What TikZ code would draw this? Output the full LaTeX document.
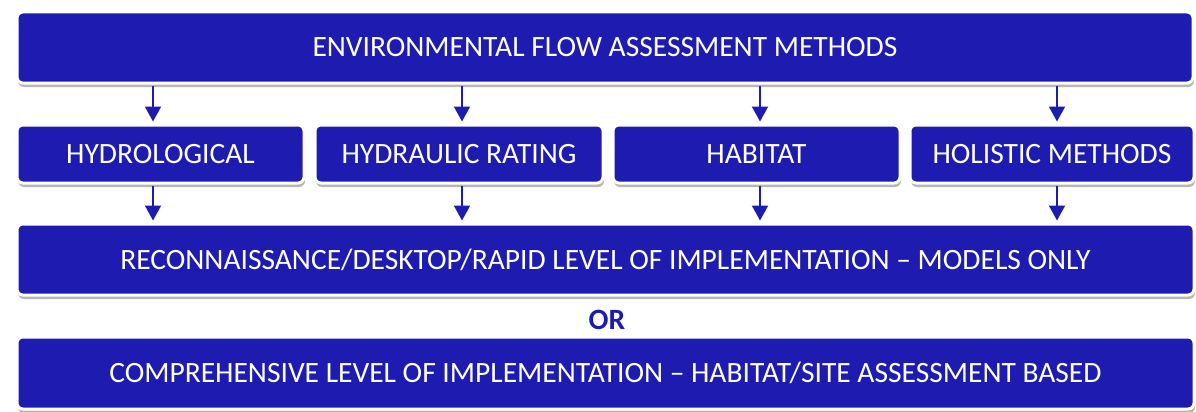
\documentclass[tikz,border=0pt]{standalone}
\usepackage{fontspec}
\setmainfont{Carlito}
\usetikzlibrary{arrows.meta,shadows}
\definecolor{efblue}{RGB}{30,28,176}
\tikzset{
  blk/.style={draw=white,line width=3pt,fill=efblue,rounded corners=6pt,text=white,
    inner sep=0pt,drop shadow={shadow xshift=1pt,shadow yshift=-4pt,opacity=0.4,fill=black!70}},
  arr/.style={-{Triangle[length=15pt,width=16pt]},efblue,line width=2pt,shorten >=2pt,shorten <=1pt}
}

\begin{document}
\begin{tikzpicture}[x=1pt,y=-1pt,font=\fontsize{29.5}{32}\selectfont]
\useasboundingbox[fill=white] (0,0) rectangle (1196,412);
% --- top: the family of methods
\node[blk,minimum width=1176pt,minimum height=71pt] (efa) at (605,47.5) {ENVIRONMENTAL FLOW ASSESSMENT METHODS};
% --- four kinds of method
\node[blk,minimum width=287pt,minimum height=58pt] (hydro) at (160.5,154) {HYDROLOGICAL};
\node[blk,minimum width=288pt,minimum height=58pt] (hydra) at (459,154) {HYDRAULIC RATING};
\node[blk,minimum width=287pt,minimum height=58pt] (habit) at (756.5,154) {HABITAT};
\node[blk,minimum width=284pt,minimum height=58pt] (holis) at (1052,154) {HOLISTIC METHODS};
% --- levels of implementation
\node[blk,minimum width=1177pt,minimum height=71pt] (recon) at (605.5,259.5) {RECONNAISSANCE/DESKTOP/RAPID LEVEL OF IMPLEMENTATION -- MODELS ONLY};
\node[efblue,font=\fontsize{29.5}{32}\selectfont\bfseries] (or) at (607,320) {OR};
\node[blk,minimum width=1177pt,minimum height=72pt] (compr) at (605.5,373) {COMPREHENSIVE LEVEL OF IMPLEMENTATION -- HABITAT/SITE ASSESSMENT BASED};
% --- arrows
\draw[arr] ([xshift=-7.5pt]hydro.north |- efa.south) -- ([xshift=-7.5pt]hydro.north);
\draw[arr] ([xshift=3pt]hydra.north |- efa.south) -- ([xshift=3pt]hydra.north);
\draw[arr] ([xshift=3.5pt]habit.north |- efa.south) -- ([xshift=3.5pt]habit.north);
\draw[arr] ([xshift=5pt]holis.north |- efa.south) -- ([xshift=5pt]holis.north);
\draw[arr] ([xshift=-7.5pt]hydro.south) -- ([xshift=-7.5pt]hydro.south |- recon.north);
\draw[arr] ([xshift=3pt]hydra.south) -- ([xshift=3pt]hydra.south |- recon.north);
\draw[arr] ([xshift=3.5pt]habit.south) -- ([xshift=3.5pt]habit.south |- recon.north);
\draw[arr] ([xshift=5pt]holis.south) -- ([xshift=5pt]holis.south |- recon.north);
\end{tikzpicture}
\end{document}
